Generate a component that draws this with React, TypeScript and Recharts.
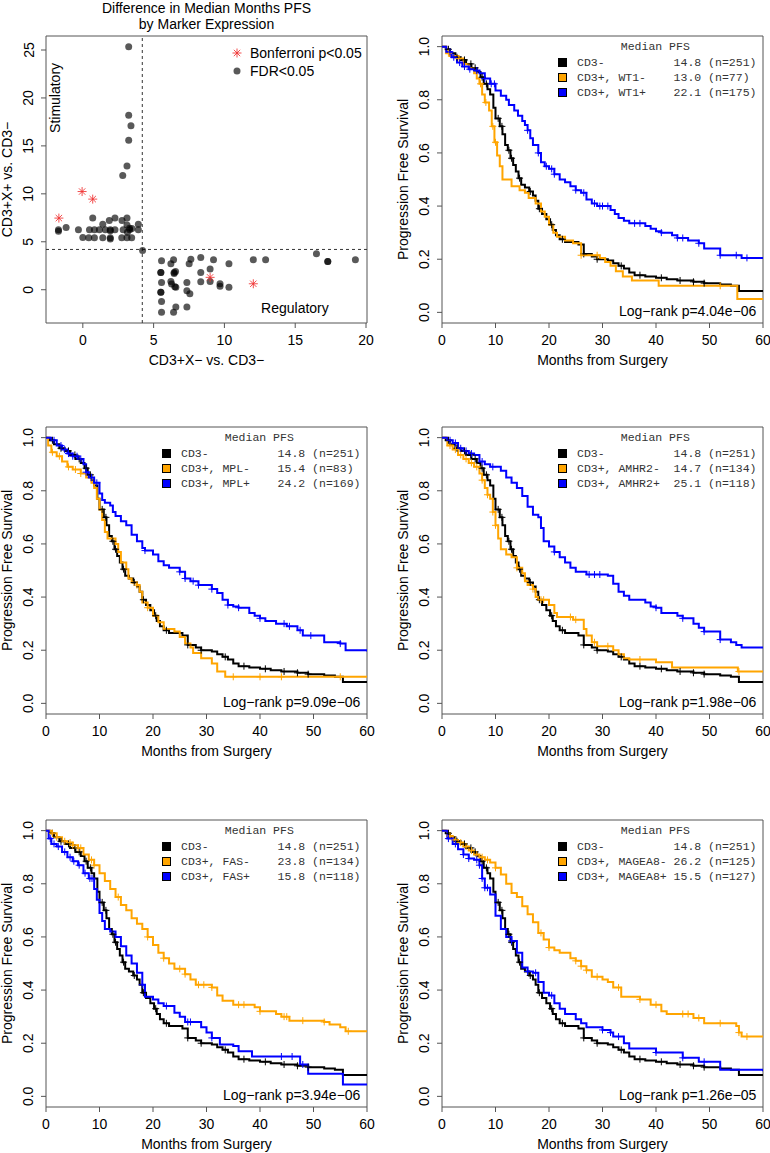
import React from 'react';
import {
  ComposedChart, Line, Scatter, XAxis, YAxis, ReferenceArea, ReferenceLine, ReferenceDot, Legend,
} from 'recharts';

type Pt = [number, number];

// ---------- scatter panel: difference in median PFS ----------
const fdrPoints: Pt[] = [
  [3.24, 25.35], [3.24, 18.2], [3.4, 17.1], [3.24, 15.6], [3.12, 12.9], [2.82, 11.9],
  [-1.72, 6.25], [-1.72, 6.1], [-1.18, 6.49], [-0.31, 6.25], [0.7, 7.47],
  [0.0, 5.45], [0.42, 5.42], [0.82, 5.42], [1.41, 5.42], [1.94, 5.42], [1.94, 5.3],
  [0.47, 6.25], [0.82, 6.25], [1.17, 6.25], [1.59, 6.25], [1.94, 6.25], [2.27, 6.25], [1.94, 6.15],
  [1.41, 6.84], [1.87, 7.22], [2.27, 7.47], [2.77, 7.22], [3.12, 7.47], [3.12, 6.74],
  [3.31, 6.25], [2.85, 6.25], [3.47, 6.38], [3.15, 6.0], [3.3, 6.4],
  [2.75, 5.42], [3.12, 5.42], [3.45, 5.42], [3.92, 6.84], [3.92, 6.25], [4.22, 4.1],
  [5.56, 3.02], [6.41, 3.12], [6.22, 2.71], [7.63, 3.19], [7.51, 2.71], [8.33, 3.36],
  [9.23, 3.12], [10.32, 2.71], [12.04, 3.12], [12.91, 3.12], [16.5, 3.75], [17.3, 2.95],
  [17.3, 2.95], [19.25, 3.12],
  [5.51, 1.8], [5.51, 1.8], [6.45, 1.8], [6.45, 1.7], [6.55, 1.9], [8.33, 1.8], [8.99, 2.16],
  [5.56, 0.76], [6.22, 0.86], [6.27, 0.59], [6.57, 0.27], [6.5, 0.3], [7.35, 0.76],
  [8.33, 0.83], [8.99, 0.86], [9.69, 0.63], [9.69, 0.35], [10.32, 0.27],
  [5.51, -0.27], [5.51, -0.27], [7.35, -0.1], [7.56, -0.42], [5.56, -1.22],
  [6.57, -1.8], [6.41, -2.36], [7.35, -1.8], [5.56, -2.36],
];
const bonferroniPoints: Pt[] = [
  [-1.69, 7.47], [-0.05, 10.24], [0.7, 9.45], [8.99, 1.29], [12.04, 0.62],
];
const scatterXTicks = [0, 5, 10, 15, 20];
const scatterYTicks = [0, 5, 10, 15, 20, 25];
const cutoff = 4.2;

// ---------- Kaplan-Meier panels ----------
const kmXTicks = [0, 10, 20, 30, 40, 50, 60];
const kmYTicks = [0, 0.2, 0.4, 0.6, 0.8, 1.0];

// CD3- (same reference group in every panel)
const cd3Neg: Pt[] = [
  [0, 1], [0.7, 0.99], [1.5, 0.975], [2.5, 0.96], [3.5, 0.95], [4.5, 0.935], [5.5, 0.92],
  [6.5, 0.905], [7.2, 0.885], [7.8, 0.86], [8.5, 0.84], [9, 0.82], [9.6, 0.77], [10, 0.73],
  [10.8, 0.7], [11.3, 0.67], [11.8, 0.63], [12.3, 0.61], [12.8, 0.58], [13.3, 0.555],
  [13.8, 0.53], [14.3, 0.505], [14.8, 0.48], [15.5, 0.47], [16.3, 0.455], [17, 0.44],
  [17.5, 0.42], [18, 0.39], [18.7, 0.37], [19.5, 0.35], [20.2, 0.33], [20.7, 0.31],
  [21.3, 0.29], [22, 0.275], [23, 0.265], [25.5, 0.255], [26.5, 0.22], [28, 0.21],
  [29, 0.2], [31, 0.195], [32, 0.185], [33, 0.175], [34, 0.165], [35, 0.15], [36, 0.14],
  [38, 0.135], [40, 0.13], [42, 0.125], [44, 0.12], [47, 0.115], [49, 0.11], [52, 0.105],
  [54, 0.1], [55.5, 0.08], [60, 0.08],
];
const cd3NegCensor = [1.2, 2.8, 4.2, 5.4, 6.2, 7.5, 8.3, 10.5, 11.2, 12.5, 13, 14.5, 16.5, 18.2, 20.5, 22.5, 26.5, 29, 33.5, 37, 41, 44.5, 47, 49];

const wt1Neg: Pt[] = [
  [0, 1], [0.8, 0.975], [1.5, 0.965], [3, 0.955], [4, 0.935], [5, 0.92], [6, 0.9], [6.5, 0.88],
  [7, 0.86], [7.5, 0.82], [8, 0.79], [8.8, 0.76], [9.3, 0.7], [9.8, 0.64], [10.3, 0.59],
  [10.8, 0.55], [11.3, 0.5], [13, 0.475], [14.5, 0.46], [15.5, 0.45], [16.2, 0.43],
  [17.5, 0.41], [18.5, 0.38], [19.2, 0.36], [20, 0.33], [20.8, 0.3], [21.5, 0.285],
  [23, 0.27], [24.5, 0.26], [26, 0.215], [29.5, 0.205], [30.5, 0.19], [31.5, 0.175],
  [32.5, 0.155], [33.8, 0.135], [35.5, 0.12], [40.5, 0.1], [55.2, 0.05], [60, 0.05],
];
const wt1NegCensor = [1.2, 3.2, 7.2, 8.2, 9.5, 10, 26, 29, 52];
const wt1Pos: Pt[] = [
  [0, 1], [0.8, 0.98], [1.8, 0.96], [2.8, 0.94], [3.8, 0.925], [5, 0.915], [6, 0.91], [7, 0.9],
  [8, 0.88], [9, 0.86], [10, 0.835], [11, 0.815], [12, 0.8], [12.5, 0.78], [13.5, 0.76],
  [14.2, 0.74], [15, 0.72], [15.5, 0.705], [16, 0.685], [16.5, 0.655], [17, 0.63], [18, 0.6],
  [18.5, 0.565], [19.2, 0.55], [20, 0.54], [21, 0.52], [22, 0.5], [23, 0.49], [24, 0.475],
  [25, 0.46], [26, 0.45], [27, 0.425], [28, 0.41], [29, 0.4], [31.5, 0.385], [32.3, 0.37],
  [33, 0.355], [34, 0.345], [35, 0.335], [38, 0.325], [39, 0.315], [40, 0.305], [41, 0.3],
  [43, 0.29], [44, 0.28], [46, 0.27], [48, 0.26], [49, 0.24], [52, 0.215], [56, 0.205], [60, 0.205],
];
const wt1PosCensor = [1.5, 2.2, 3.3, 4.2, 5.2, 6.5, 8, 9.2, 9.8, 16, 18, 19.5, 20.5, 21, 25, 26.5, 28.5, 29.5, 30, 31, 36, 37, 41, 44, 45, 48, 52, 55, 57];

const mplNeg: Pt[] = [
  [0, 1], [0.4, 0.97], [1, 0.945], [2, 0.93], [3, 0.91], [4, 0.89], [5, 0.88], [6.5, 0.865],
  [7.5, 0.85], [8.5, 0.83], [9, 0.81], [9.5, 0.77], [10, 0.73], [10.5, 0.69], [11, 0.645],
  [11.5, 0.62], [13, 0.6], [13.5, 0.57], [14, 0.53], [15, 0.505], [15.4, 0.47], [16, 0.455],
  [17, 0.445], [17.5, 0.42], [18, 0.38], [19, 0.36], [20, 0.33], [21, 0.305], [22, 0.28],
  [24, 0.27], [25, 0.25], [26, 0.225], [27, 0.21], [27.5, 0.19], [29, 0.17], [31, 0.15],
  [32, 0.12], [33.5, 0.1], [60, 0.1],
];
const mplNegCensor = [1.2, 2.5, 4.2, 5.5, 6.5, 17, 19, 35, 40, 44, 55];
const mplPos: Pt[] = [
  [0, 1], [1, 0.99], [2, 0.97], [3, 0.955], [4, 0.94], [5, 0.93], [6, 0.92], [7, 0.9],
  [7.5, 0.87], [8, 0.85], [9, 0.83], [10, 0.79], [10.5, 0.765], [11, 0.755], [12, 0.745],
  [12.5, 0.72], [13, 0.705], [14, 0.685], [15, 0.67], [16, 0.635], [17, 0.61], [18, 0.585],
  [18.5, 0.575], [20, 0.56], [21, 0.535], [22, 0.52], [23, 0.51], [25, 0.495], [26, 0.47],
  [27, 0.46], [28.5, 0.445], [31, 0.43], [32, 0.415], [33, 0.39], [34, 0.37], [35, 0.365],
  [36, 0.36], [38, 0.34], [39, 0.33], [40, 0.32], [41, 0.31], [43, 0.3], [45, 0.29],
  [47, 0.275], [48, 0.255], [52, 0.23], [55, 0.225], [56, 0.2], [60, 0.195],
];
const mplPosCensor = [1.5, 2.8, 3.5, 4.2, 5, 5.8, 6.5, 7.5, 8.5, 9.5, 18.5, 25, 26, 27.5, 28.5, 31, 34, 36, 40, 44.5, 45.5, 47.5, 49.5, 55];

const amhr2Neg: Pt[] = [
  [0, 1], [1, 0.97], [2, 0.955], [3, 0.935], [4, 0.92], [5, 0.905], [6, 0.89], [7, 0.865],
  [7.5, 0.84], [8, 0.81], [8.5, 0.785], [9, 0.77], [9.5, 0.72], [10, 0.67], [10.5, 0.62],
  [11, 0.58], [12, 0.56], [13, 0.55], [14, 0.51], [15, 0.49], [15.5, 0.46], [16, 0.445],
  [17, 0.43], [17.5, 0.4], [18, 0.39], [20, 0.37], [21, 0.34], [21.5, 0.325], [24.5, 0.315],
  [26.5, 0.28], [27, 0.255], [28, 0.23], [29, 0.215], [32, 0.2], [33, 0.185], [34, 0.17],
  [35, 0.165], [40, 0.155], [43, 0.135], [55.3, 0.12], [60, 0.12],
];
const amhr2NegCensor = [1.5, 2.5, 3.5, 4.5, 5.5, 6.5, 7.5, 8.5, 9.5, 10, 14, 17, 18.5, 19, 24, 25, 28.5, 31, 37, 55.5];
const amhr2Pos: Pt[] = [
  [0, 1], [1, 0.99], [2, 0.98], [3, 0.96], [4, 0.95], [5, 0.94], [6, 0.935], [7, 0.91],
  [8, 0.9], [9, 0.89], [11, 0.875], [12, 0.85], [13, 0.83], [14, 0.81], [15, 0.78], [16, 0.74],
  [17, 0.71], [18, 0.7], [18.5, 0.66], [19, 0.61], [20, 0.59], [21, 0.57], [22, 0.55],
  [23, 0.53], [24, 0.51], [25, 0.495], [27, 0.485], [31, 0.48], [32, 0.45], [33, 0.42],
  [34, 0.405], [35, 0.39], [38, 0.38], [39, 0.365], [40, 0.36], [41, 0.34], [44, 0.33],
  [45, 0.32], [47, 0.3], [48, 0.285], [49, 0.27], [52, 0.24], [54, 0.23], [55, 0.22],
  [56, 0.21], [60, 0.21],
];
const amhr2PosCensor = [1.5, 2.5, 3.5, 4.5, 5.5, 7.5, 9.5, 21, 27.5, 28.5, 29.5, 40, 45, 49, 52];

const fasNeg: Pt[] = [
  [0, 1], [1, 0.99], [2, 0.975], [3, 0.96], [4, 0.955], [5, 0.945], [6, 0.935], [7, 0.91],
  [8, 0.89], [9, 0.87], [10, 0.84], [11, 0.81], [12, 0.78], [13, 0.75], [14, 0.72], [15, 0.7],
  [16, 0.67], [17, 0.65], [18, 0.63], [19, 0.6], [20, 0.57], [21, 0.54], [22, 0.52], [23, 0.5],
  [24, 0.48], [26, 0.46], [27, 0.44], [28, 0.42], [31, 0.41], [32, 0.38], [33, 0.36],
  [35, 0.345], [39, 0.335], [40, 0.32], [43, 0.31], [44, 0.3], [45.5, 0.285], [52, 0.28],
  [53, 0.27], [55, 0.26], [56, 0.245], [60, 0.245],
];
const fasNegCensor = [1.2, 2, 3.5, 4.5, 5, 6, 6.5, 8.5, 9, 13.5, 19, 22, 25, 26, 28.5, 29.5, 31, 36, 37, 40, 44.5, 45, 48, 52, 56.5];
const fasPos: Pt[] = [
  [0, 1], [0.5, 0.97], [1, 0.95], [2, 0.94], [3, 0.92], [4, 0.9], [5, 0.885], [6, 0.87],
  [7, 0.84], [8, 0.82], [9, 0.78], [9.5, 0.74], [10, 0.69], [10.5, 0.66], [11, 0.63],
  [12, 0.62], [13, 0.6], [14, 0.565], [15, 0.53], [16, 0.5], [17, 0.465], [18, 0.42],
  [18.5, 0.375], [20, 0.365], [21, 0.35], [22, 0.34], [24, 0.315], [25, 0.3], [26, 0.28],
  [29, 0.26], [30, 0.24], [31, 0.22], [32.5, 0.195], [35, 0.19], [36, 0.17], [38.5, 0.15],
  [47.5, 0.12], [49, 0.085], [55.5, 0.045], [60, 0.045],
];
const fasPosCensor = [0.8, 1.5, 2.3, 3.5, 4.5, 5.2, 6.2, 7.3, 8.2, 8.6, 18, 22.5, 26.5, 27, 31, 44, 46, 48];

const magea8Neg: Pt[] = [
  [0, 1], [1, 0.98], [2, 0.965], [3, 0.955], [4, 0.94], [5, 0.925], [6, 0.91], [7, 0.9],
  [8, 0.89], [9, 0.88], [10, 0.86], [11, 0.835], [12, 0.8], [13, 0.765], [14, 0.75],
  [15, 0.715], [16, 0.685], [17, 0.655], [18, 0.615], [19, 0.59], [20, 0.56], [21, 0.55],
  [22, 0.54], [24, 0.52], [25, 0.51], [26, 0.49], [27, 0.475], [28, 0.45], [30, 0.44],
  [31, 0.43], [32, 0.41], [33.5, 0.375], [37, 0.365], [39, 0.345], [41, 0.32], [42, 0.31],
  [47, 0.295], [49, 0.275], [55, 0.265], [55.5, 0.24], [56, 0.225], [60, 0.225],
];
const magea8NegCensor = [1.5, 2.5, 3.5, 4.5, 5.5, 6.5, 7.5, 8.5, 10, 18.5, 20, 25, 26, 27, 29, 33, 37, 40, 45, 46, 48, 52, 55.5, 57];
const magea8Pos: Pt[] = [
  [0, 1], [1, 0.97], [2, 0.95], [3, 0.93], [4, 0.91], [5, 0.895], [6, 0.89], [7, 0.87],
  [7.5, 0.82], [8, 0.785], [9, 0.76], [10, 0.68], [11, 0.63], [12, 0.6], [13, 0.585],
  [14, 0.54], [15, 0.485], [16, 0.47], [17, 0.465], [18, 0.43], [19, 0.39], [20, 0.38],
  [21, 0.35], [22, 0.33], [23, 0.31], [25, 0.29], [26, 0.275], [27, 0.26], [30, 0.25],
  [31.5, 0.24], [32, 0.225], [34, 0.2], [35, 0.18], [40, 0.165], [45, 0.145], [48, 0.13],
  [52, 0.1], [60, 0.095],
];
const magea8PosCensor = [1.2, 2.5, 4, 5, 6.5, 7, 7.5, 8, 8.5, 13, 16, 17.5, 20.5, 30, 31.5, 33, 40, 45, 49];

const wt1Labels = ['CD3-', 'CD3+, WT1-', 'CD3+, WT1+'];
const wt1Medians = ['14.8', '13.0', '22.1'];
const wt1Ns = [251, 77, 175];
const mplLabels = ['CD3-', 'CD3+, MPL-', 'CD3+, MPL+'];
const mplMedians = ['14.8', '15.4', '24.2'];
const mplNs = [251, 83, 169];
const amhr2Labels = ['CD3-', 'CD3+, AMHR2-', 'CD3+, AMHR2+'];
const amhr2Medians = ['14.8', '14.7', '25.1'];
const amhr2Ns = [251, 134, 118];
const fasLabels = ['CD3-', 'CD3+, FAS-', 'CD3+, FAS+'];
const fasMedians = ['14.8', '23.8', '15.8'];
const fasNs = [251, 134, 118];
const magea8Labels = ['CD3-', 'CD3+, MAGEA8-', 'CD3+, MAGEA8+'];
const magea8Medians = ['14.8', '26.2', '15.5'];
const magea8Ns = [251, 125, 127];

// ---------- styling / layout ----------
const FONT = '"Liberation Sans", Arial, Helvetica, sans-serif';
const MONO = '"Liberation Mono", "Courier New", monospace';
const BOX = '#555';
const COLORS = ['#000000', '#FFA500', '#0000FF'];
const AXW = 46; // y-axis width
const MT = 36;  // top margin inside each chart
const PW = 321;
const PH = 287;
const XH = 50;
const MR_LEFT = 20; // room for the last x tick label in the left column
const MR_RIGHT = 7; // right column runs to the page edge

const toRows = (c: Pt[]) => c.map(([t, s]) => ({ t, s }));
const survAt = (c: Pt[], t: number) => {
  let s = 1;
  for (const [ti, si] of c) {
    if (ti <= t) s = si;
    else break;
  }
  return s;
};
const censorRows = (c: Pt[], times: number[]) => times.map((t) => ({ t, s: survAt(c, t) }));

function XTick(props: any) {
  const { x, y, payload } = props;
  return (
    <text x={x} y={y} dy="0.71em" textAnchor="middle" fontFamily={FONT} fontSize={14} fill="#000">
      {payload.value}
    </text>
  );
}

function YTick(props: any) {
  const { x, y, payload, fmt } = props;
  return (
    <text x={x} y={y} transform={`rotate(-90 ${x} ${y})`} textAnchor="middle" dominantBaseline="central"
      fontFamily={FONT} fontSize={14} fill="#000">
      {fmt(payload.value)}
    </text>
  );
}

const xLabel = (text: string) => (p: any) => {
  const vb = p.viewBox;
  return (
    <text x={vb.x + vb.width / 2} y={vb.y + 41.5} textAnchor="middle" fontFamily={FONT} fontSize={14} fill="#000">
      {text}
    </text>
  );
};

const yLabel = (text: string) => (p: any) => {
  const vb = p.viewBox;
  const cx = vb.x + vb.width - 34;
  const cy = vb.y + vb.height / 2;
  return (
    <text x={cx} y={cy} transform={`rotate(-90 ${cx} ${cy})`} textAnchor="middle" fontFamily={FONT} fontSize={14} fill="#000">
      {text}
    </text>
  );
};

const plusShape = (color: string) => (p: any) => (
  <path d={`M${p.cx - 3.5},${p.cy}H${p.cx + 3.5}M${p.cx},${p.cy - 3.5}V${p.cy + 3.5}`} stroke={color} strokeWidth={1} fill="none" />
);

const dotShape = (p: any) => <circle cx={p.cx} cy={p.cy} r={3.5} fill="#000" fillOpacity={0.65} />;

const starPath = (cx: number, cy: number) =>
  `M${cx - 4.5},${cy}H${cx + 4.5}M${cx},${cy - 4.5}V${cy + 4.5}` +
  `M${cx - 3.2},${cy - 3.2}L${cx + 3.2},${cy + 3.2}M${cx - 3.2},${cy + 3.2}L${cx + 3.2},${cy - 3.2}`;
const starShape = (p: any) => <path d={starPath(p.cx, p.cy)} stroke="#f03030" strokeOpacity={0.85} strokeWidth={1} fill="none" />;

function MedianLegend({ labels, medians, ns }: { labels: string[]; medians: string[]; ns: number[] }) {
  return (
    <div style={{ fontFamily: MONO, fontSize: 11.5, color: '#333', whiteSpace: 'pre', textAlign: 'left' }}>
      <div style={{ lineHeight: '16.5px', height: 16.5, paddingLeft: 63.3 }}>Median PFS</div>
      {labels.map((lab, i) => (
        <div key={lab} style={{ lineHeight: '15px', height: 15, display: 'flex', alignItems: 'center' }}>
          <span style={{ display: 'inline-block', width: 9, height: 9, background: COLORS[i], border: '1px solid #000', boxSizing: 'border-box', marginRight: 10.5 }} />
          <span>{lab.padEnd(14) + medians[i] + ' (n=' + ns[i] + ')'}</span>
        </div>
      ))}
    </div>
  );
}

interface KMProps {
  left: number;
  top: number;
  mr: number;
  labels: string[];
  medians: string[];
  ns: number[];
  curves: Pt[][];
  censors: number[][];
  pText: string;
}

function KMPanel({ left, top, mr, labels, medians, ns, curves, censors, pText }: KMProps) {
  return (
    <div style={{ position: 'absolute', left: left - AXW, top: top - MT }}>
      <ComposedChart width={AXW + PW + mr} height={MT + PH + XH} margin={{ top: MT, right: mr, bottom: 0, left: 0 }}>
        <XAxis type="number" dataKey="t" domain={[0, 60]} ticks={kmXTicks} allowDataOverflow interval={0}
          height={XH} axisLine={false} tickLine={{ stroke: BOX }} tickSize={5} tickMargin={6.7}
          tick={<XTick />} label={xLabel('Months from Surgery')} />
        <YAxis type="number" dataKey="s" domain={[-0.04, 1.04]} ticks={kmYTicks} allowDataOverflow interval={0}
          width={AXW} axisLine={false} tickLine={{ stroke: BOX }} tickSize={5} tickMargin={12.5}
          tick={<YTick fmt={(v: number) => v.toFixed(1)} />} label={yLabel('Progression Free Survival')} />
        <ReferenceArea x1={0} x2={60} y1={-0.04} y2={1.04} fill="none" fillOpacity={0} stroke={BOX} strokeWidth={1} />
        {curves.map((c, i) => (
          <Line key={'l' + i} data={toRows(c)} dataKey="s" type="stepAfter" stroke={COLORS[i]} strokeWidth={2}
            dot={false} activeDot={false} isAnimationActive={false} />
        ))}
        {censors.map((times, i) => (
          <Scatter key={'c' + i} data={censorRows(curves[i], times)} dataKey="s" shape={plusShape(COLORS[i])}
            isAnimationActive={false} />
        ))}
        <ReferenceDot x={60} y={0} r={1} fill="none" stroke="none"
          label={(p: any) => (
            <text x={p.viewBox.x + p.viewBox.width / 2 - 6.6} y={p.viewBox.y + p.viewBox.height / 2 + 3.5}
              textAnchor="end" fontFamily={FONT} fontSize={14} fill="#000">
              {pText}
            </text>
          )} />
        <Legend verticalAlign="middle" align="center" layout="horizontal"
          wrapperStyle={{ left: AXW + 115.5, top: MT + 2.5, width: 'auto', height: 'auto' }}
          content={() => <MedianLegend labels={labels} medians={medians} ns={ns} />} />
      </ComposedChart>
    </div>
  );
}

function ScatterPanel() {
  const fdr = fdrPoints.map(([x, y]) => ({ x, y }));
  const bonf = bonferroniPoints.map(([x, y]) => ({ x, y }));
  const xd: [number, number] = [-2.6, 20.07];
  const yd: [number, number] = [-3.47, 26.46];
  return (
    <div style={{ position: 'absolute', left: 0, top: 0 }}>
      <ComposedChart width={AXW + PW + MR_LEFT} height={MT + PH + XH} margin={{ top: MT, right: MR_LEFT, bottom: 0, left: 0 }}>
        <XAxis type="number" dataKey="x" domain={xd} ticks={scatterXTicks} allowDataOverflow interval={0}
          height={XH} axisLine={false} tickLine={{ stroke: BOX }} tickSize={5} tickMargin={6.7}
          tick={<XTick />} label={xLabel('CD3+X\u2212 vs. CD3\u2212')} />
        <YAxis type="number" dataKey="y" domain={yd} ticks={scatterYTicks} allowDataOverflow interval={0}
          width={AXW} axisLine={false} tickLine={{ stroke: BOX }} tickSize={5} tickMargin={12.5}
          tick={<YTick fmt={(v: number) => String(v)} />} label={yLabel('CD3+X+ vs. CD3\u2212')} />
        <ReferenceArea x1={xd[0]} x2={xd[1]} y1={yd[0]} y2={yd[1]} fill="none" fillOpacity={0} stroke={BOX} strokeWidth={1} />
        <ReferenceLine x={cutoff} stroke="#333" strokeDasharray="3 3" />
        <ReferenceLine y={cutoff} stroke="#333" strokeDasharray="3 3" />
        <Scatter data={fdr} dataKey="y" shape={dotShape} isAnimationActive={false} />
        <Scatter data={bonf} dataKey="y" shape={starShape} isAnimationActive={false} />
        <ReferenceDot x={-1.95} y={20} r={1} fill="none" stroke="none"
          label={(p: any) => {
            const cx = p.viewBox.x + p.viewBox.width / 2;
            const cy = p.viewBox.y + p.viewBox.height / 2;
            return (
              <text x={cx} y={cy} transform={`rotate(-90 ${cx} ${cy})`} textAnchor="middle" dominantBaseline="central"
                fontFamily={FONT} fontSize={14} fill="#000">Stimulatory</text>
            );
          }} />
        <ReferenceDot x={14.98} y={-1.875} r={1} fill="none" stroke="none"
          label={(p: any) => (
            <text x={p.viewBox.x + p.viewBox.width / 2} y={p.viewBox.y + p.viewBox.height / 2}
              textAnchor="middle" dominantBaseline="central" fontFamily={FONT} fontSize={14} fill="#000">Regulatory</text>
          )} />
        <Legend verticalAlign="middle" align="center" layout="horizontal"
          wrapperStyle={{ left: 231.3, top: 44.6, width: 'auto', height: 'auto' }}
          content={() => (
            <div style={{ fontFamily: FONT, fontSize: 14, color: '#000', whiteSpace: 'pre', textAlign: 'left' }}>
              <div style={{ display: 'flex', alignItems: 'center', height: 17.4 }}>
                <svg width={12} height={12}><path d={starPath(6, 6)} stroke="#f03030" strokeOpacity={0.85} strokeWidth={1} fill="none" /></svg>
                <span style={{ marginLeft: 6.7 }}>Bonferroni p&lt;0.05</span>
              </div>
              <div style={{ display: 'flex', alignItems: 'center', height: 17.4 }}>
                <svg width={12} height={12}><circle cx={6} cy={6} r={3.5} fill="#000" fillOpacity={0.65} /></svg>
                <span style={{ marginLeft: 6.7 }}>FDR&lt;0.05</span>
              </div>
            </div>
          )} />
      </ComposedChart>
      <div style={{ position: 'absolute', left: AXW, width: PW, top: -0.5, textAlign: 'center', fontFamily: FONT, fontSize: 14, lineHeight: '16.2px', color: '#000' }}>
        <div>Difference in Median Months PFS</div>
        <div>by Marker Expression</div>
      </div>
    </div>
  );
}

export default function App() {
  return (
    <div style={{ position: 'absolute', left: 0, top: 0, width: 770, height: 1153, overflow: 'hidden', background: '#fff' }}>
      <ScatterPanel />
      <KMPanel left={442} top={36} mr={MR_RIGHT} labels={wt1Labels} medians={wt1Medians} ns={wt1Ns}
        curves={[cd3Neg, wt1Neg, wt1Pos]} censors={[cd3NegCensor, wt1NegCensor, wt1PosCensor]}
        pText={'Log\u2212rank p=4.04e\u221206'} />
      <KMPanel left={46} top={427} mr={MR_LEFT} labels={mplLabels} medians={mplMedians} ns={mplNs}
        curves={[cd3Neg, mplNeg, mplPos]} censors={[cd3NegCensor, mplNegCensor, mplPosCensor]}
        pText={'Log\u2212rank p=9.09e\u221206'} />
      <KMPanel left={442} top={427} mr={MR_RIGHT} labels={amhr2Labels} medians={amhr2Medians} ns={amhr2Ns}
        curves={[cd3Neg, amhr2Neg, amhr2Pos]} censors={[cd3NegCensor, amhr2NegCensor, amhr2PosCensor]}
        pText={'Log\u2212rank p=1.98e\u221206'} />
      <KMPanel left={46} top={820} mr={MR_LEFT} labels={fasLabels} medians={fasMedians} ns={fasNs}
        curves={[cd3Neg, fasNeg, fasPos]} censors={[cd3NegCensor, fasNegCensor, fasPosCensor]}
        pText={'Log\u2212rank p=3.94e\u221206'} />
      <KMPanel left={442} top={820} mr={MR_RIGHT} labels={magea8Labels} medians={magea8Medians} ns={magea8Ns}
        curves={[cd3Neg, magea8Neg, magea8Pos]} censors={[cd3NegCensor, magea8NegCensor, magea8PosCensor]}
        pText={'Log\u2212rank p=1.26e\u221205'} />
    </div>
  );
}
